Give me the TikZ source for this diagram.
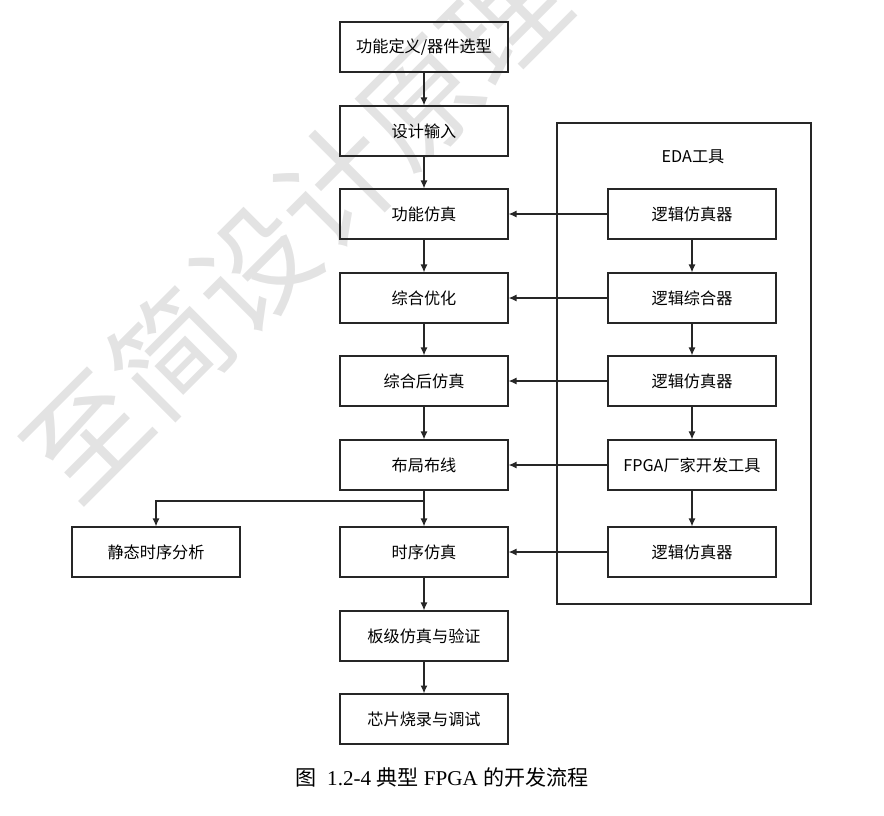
\documentclass[tikz,border=0pt]{standalone}
\usepackage{fontspec}
\setmainfont{Liberation Serif}
\newfontfamily\cjk{Noto Sans CJK SC}
\usepackage{tikz}
\usetikzlibrary{arrows.meta}

\begin{document}
\begin{tikzpicture}[x=0.02cm,y=-0.02cm,>={Latex[length=4.5pt,width=4pt]},
    box/.style={rectangle,draw=black!85,line width=0.7pt,minimum width=3.36cm,minimum height=1cm,inner sep=0pt,font=\cjk\fontsize{9.2}{9.2}\selectfont},
    link/.style={->,draw=black!85,line width=0.7pt}]
  \useasboundingbox (0,0) rectangle (884,815);
  % watermark
  \begin{scope}
    \clip (0,0) rectangle (884,815);
    \node[rotate=45,text=black!11,font=\cjk\fontsize{67}{67}\selectfont] (mark) at (295,227) {至简设计原理};
  \end{scope}
  % main flow
  \node[box] (spec)  at (424,47)  {功能定义/器件选型};
  \node[box] (entry) at (424,131) {设计输入};
  \node[box] (fsim)  at (424,214) {功能仿真};
  \node[box] (syn)   at (424,298) {综合优化};
  \node[box] (psim)  at (424,381) {综合后仿真};
  \node[box] (par)   at (424,465) {布局布线};
  \node[box] (tsim)  at (424,552) {时序仿真};
  \node[box] (board) at (424,636) {板级仿真与验证};
  \node[box] (prog)  at (424,719) {芯片烧录与调试};
  \node[box] (sta)   at (156,552) {静态时序分析};
  \coordinate (split) at (424,501);
  \draw[link] (spec) -- (entry);
  \draw[link] (entry) -- (fsim);
  \draw[link] (fsim) -- (syn);
  \draw[link] (syn) -- (psim);
  \draw[link] (psim) -- (par);
  \draw[link] (par) -- (tsim);
  \draw[link] (split) -| (sta);
  \draw[link] (tsim) -- (board);
  \draw[link] (board) -- (prog);
  % EDA tools
  \node[rectangle,draw=black!85,line width=0.7pt,minimum width=5.08cm,minimum height=9.62cm,inner sep=0pt] (eda) at (684,363.5) {};
  \node[font=\cjk\fontsize{9.2}{9.2}\selectfont] (edalabel) at (693,157) {EDA工具};
  \node[box] (lsim1) at (692,214) {逻辑仿真器};
  \node[box] (lsyn)  at (692,298) {逻辑综合器};
  \node[box] (lsim2) at (692,381) {逻辑仿真器};
  \node[box] (vend)  at (692,465) {FPGA厂家开发工具};
  \node[box] (lsim3) at (692,552) {逻辑仿真器};
  \draw[link] (lsim1) -- (lsyn);
  \draw[link] (lsyn) -- (lsim2);
  \draw[link] (lsim2) -- (vend);
  \draw[link] (vend) -- (lsim3);
  \draw[link] (lsim1) -- (fsim);
  \draw[link] (lsyn) -- (syn);
  \draw[link] (lsim2) -- (psim);
  \draw[link] (vend) -- (par);
  \draw[link] (lsim3) -- (tsim);
  % caption
  \node[font=\fontsize{12}{12}\selectfont] (cap) at (442,777) {{\cjk 图}\ \ 1.2-4 {\cjk 典型} FPGA {\cjk 的开发流程}};
\end{tikzpicture}
\end{document}
